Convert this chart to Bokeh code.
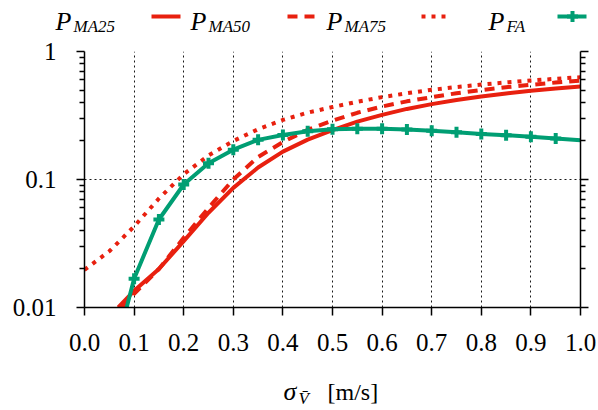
from bokeh.plotting import figure
from bokeh.layouts import column
from bokeh.models import (Range1d, LogAxis, FixedTicker, CustomJSTickFormatter)
from bokeh.core.properties import value
from bokeh.embed import file_html
from bokeh.resources import INLINE

# ---------------- data ----------------
x_ma25 = [0.068, 0.10, 0.15, 0.20, 0.25, 0.30, 0.35, 0.40, 0.45, 0.50, 0.55,
          0.60, 0.65, 0.70, 0.75, 0.80, 0.85, 0.90, 0.95, 1.00]
y_ma25 = [0.010, 0.0135, 0.020, 0.033, 0.055, 0.086, 0.124, 0.165, 0.205, 0.243,
          0.283, 0.320, 0.356, 0.388, 0.418, 0.445, 0.470, 0.494, 0.515, 0.533]

x_ma50 = [0.075, 0.10, 0.15, 0.20, 0.25, 0.30, 0.35, 0.40, 0.45, 0.50, 0.55,
          0.60, 0.65, 0.70, 0.75, 0.80, 0.85, 0.90, 0.95, 1.00]
y_ma50 = [0.010, 0.0128, 0.020, 0.035, 0.060, 0.100, 0.150, 0.196, 0.245, 0.288,
          0.332, 0.372, 0.408, 0.440, 0.472, 0.500, 0.526, 0.549, 0.572, 0.593]

x_ma75 = [0.00, 0.05, 0.10, 0.15, 0.20, 0.25, 0.30, 0.35, 0.40, 0.45, 0.50,
          0.55, 0.60, 0.65, 0.70, 0.75, 0.80, 0.85, 0.90, 0.95, 1.00]
y_ma75 = [0.0197, 0.0275, 0.043, 0.071, 0.110, 0.154, 0.200, 0.247, 0.292, 0.333,
          0.368, 0.405, 0.440, 0.472, 0.502, 0.528, 0.552, 0.573, 0.593, 0.612, 0.630]

x_fa = [0.085, 0.10, 0.15, 0.20, 0.25, 0.30, 0.35, 0.40, 0.45, 0.50, 0.55,
        0.60, 0.65, 0.70, 0.75, 0.80, 0.85, 0.90, 0.95, 1.00]
y_fa = [0.010, 0.0168, 0.0487, 0.0914, 0.134, 0.171, 0.204, 0.223, 0.238, 0.247,
        0.249, 0.249, 0.246, 0.240, 0.234, 0.227, 0.222, 0.216, 0.209, 0.203]

x_ticks = [0.0, 0.1, 0.2, 0.3, 0.4, 0.5, 0.6, 0.7, 0.8, 0.9, 1.0]
x_tick_labels = ["0.0", "0.1", "0.2", "0.3", "0.4", "0.5", "0.6", "0.7", "0.8", "0.9", "1.0"]
y_ticks = [0.01, 0.1, 1.0]
y_tick_labels = ["0.01", "0.1", "1"]
series_names = ["MA25", "MA50", "MA75", "FA"]
x_label_parts = ["σ", "V\u0304", "[m/s]"]

RED = "#e8200f"
GREEN = "#009e73"
SERIF = "Liberation Serif"
LW = 4
W = 598

# ---------------- layout (page pixels) ----------------
TOP_H = 38          # legend strip
FL, FW = 84, 496    # frame left / width
FT_IN, FH = 13, 256 # frame top inside main figure / frame height
MAIN_H = 332
BOT_H = 410 - TOP_H - MAIN_H


def strip(y0, h):
    f = figure(width=W, height=h, output_backend="svg", toolbar_location=None,
               x_range=Range1d(0, W), y_range=Range1d(y0 + h, y0),
               x_axis_location=None, y_axis_location=None, min_border=0,
               frame_align=False)
    f.outline_line_color = None
    f.grid.visible = False
    f.background_fill_color = "white"
    f.border_fill_color = "white"
    return f


# ---------------- main plot ----------------
p = figure(width=W, height=MAIN_H, output_backend="svg", toolbar_location=None,
           x_range=Range1d(0, 1), y_range=Range1d(0.01, 1), y_axis_type="log",
           min_border_left=FL, min_border_right=W - FL - FW, min_border_top=FT_IN,
           min_border_bottom=MAIN_H - FT_IN - FH, frame_align=False)
p.outline_line_color = None
p.background_fill_color = "white"
p.border_fill_color = "white"

minor = [m * d for d in (0.01, 0.1) for m in range(2, 10)]

p.xaxis.ticker = FixedTicker(ticks=x_ticks)
p.xaxis.major_label_overrides = {t: l for t, l in zip(x_ticks, x_tick_labels)}
p.yaxis.ticker = FixedTicker(ticks=y_ticks, minor_ticks=minor)
p.yaxis.major_label_overrides = {t: l for t, l in zip(y_ticks, y_tick_labels)}

for ax in (p.xaxis[0], p.yaxis[0]):
    ax.major_label_text_font = SERIF
    ax.major_label_text_font_size = "25px"
    ax.major_label_text_color = "black"
    ax.axis_line_width = 1.5
    ax.major_tick_line_width = 1.5
    ax.minor_tick_line_width = 1.5
    ax.major_tick_out = 8
    ax.major_tick_in = 0
    ax.minor_tick_out = 5
    ax.minor_tick_in = 0
p.xaxis.major_label_standoff = 18
p.yaxis.major_label_standoff = 20

ra = LogAxis(ticker=FixedTicker(ticks=y_ticks, minor_ticks=minor),
             formatter=CustomJSTickFormatter(code="return ''"),
             axis_line_width=1.5, major_tick_line_width=1.5, minor_tick_line_width=1.5,
             major_tick_out=8, major_tick_in=0, minor_tick_out=5, minor_tick_in=0,
             major_label_standoff=0)
p.add_layout(ra, "right")

for g in (p.xgrid[0], p.ygrid[0]):
    g.grid_line_color = "black"
    g.grid_line_dash = "2 3"
    g.grid_line_width = 1
    g.grid_line_alpha = 0.9

p.line(x_ma25, y_ma25, line_color=RED, line_width=LW)
p.line(x_ma50, y_ma50, line_color=RED, line_width=LW, line_dash="10 7")
p.line(x_ma75, y_ma75, line_color=RED, line_width=LW, line_dash="4 6")
p.line(x_fa, y_fa, line_color=GREEN, line_width=LW)
p.scatter(x_fa[1:-1], y_fa[1:-1], marker="cross", size=11, line_width=4,
          line_color=GREEN)

# ---------------- legend strip ----------------
top = strip(0, TOP_H)
leg_px = [55, 190, 326, 488]
leg_line = [(151, 180), (287, 315), (421, 446), (557, 586)]
leg_style = [(RED, "solid"), (RED, "10 7"), (RED, "4 6"), (GREEN, "solid")]
top.text(x=leg_px, y=[21] * 4, text=["P"] * 4, text_font=value(SERIF),
         text_font_size="26px", text_font_style="italic", text_color="black",
         text_baseline="alphabetic", text_align="left")
top.text(x=[v + 18 for v in leg_px], y=[26] * 4, text=series_names,
         text_font=value(SERIF), text_font_size="17px", text_font_style="italic",
         text_color="black", text_baseline="alphabetic", text_align="left")
for (a, b), (c, d) in zip(leg_line, leg_style):
    top.line([a, b], [16, 16], line_color=c, line_width=LW, line_dash=d)
top.scatter([572], [16], marker="cross", size=11, line_width=4, line_color=GREEN)

# ---------------- x-axis label strip ----------------
bot = strip(TOP_H + MAIN_H, BOT_H)
bot.text(x=[283], y=[391], text=[x_label_parts[0]], text_font=value(SERIF),
         text_font_size="26px", text_font_style="italic", text_color="black",
         text_baseline="alphabetic")
bot.text(x=[298], y=[398], text=[x_label_parts[1]], text_font=value(SERIF),
         text_font_size="17px", text_font_style="italic", text_color="black",
         text_baseline="alphabetic")
bot.text(x=[327], y=[391], text=[x_label_parts[2]], text_font=value(SERIF),
         text_font_size="24px", text_color="black", text_baseline="alphabetic")

layout = column(top, p, bot, spacing=0)
open("out.html", "w").write(file_html(layout, INLINE))
